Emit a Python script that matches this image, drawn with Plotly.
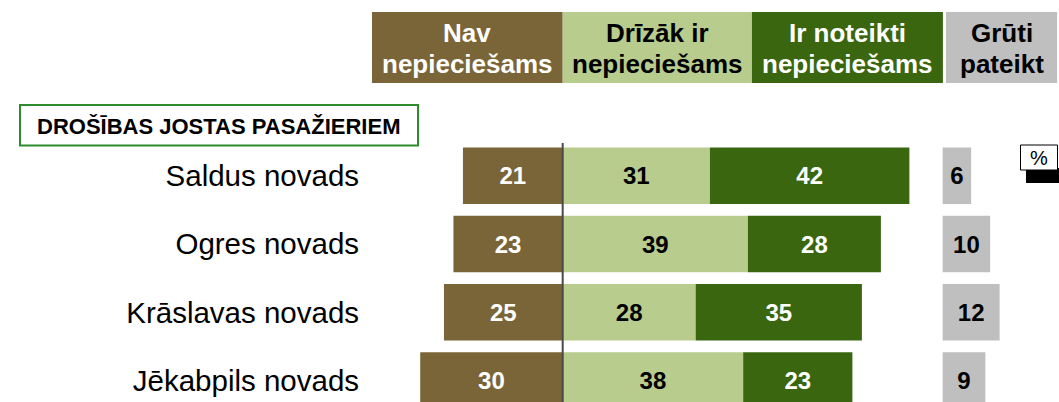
import plotly.graph_objects as go

regions = ["Saldus novads", "Ogres novads", "Krāslavas novads", "Jēkabpils novads"]
nav = [21, 23, 25, 30]
drizak = [31, 39, 28, 38]
noteikti = [42, 28, 35, 23]
gruti = [6, 10, 12, 9]

header_top = ["Nav", "Drīzāk ir", "Ir noteikti", "Grūti"]
header_bottom = ["nepieciešams", "nepieciešams", "nepieciešams", "pateikt"]
section_title = "DROŠĪBAS JOSTAS PASAŽIERIEM"

BROWN = "#7A6538"
LIGHT = "#B8CC8E"
DARK = "#3A6610"
GREY = "#BFBFBF"
FONT = "Liberation Sans, Arial, sans-serif"

W, H = 1059, 402
L, T = 372, 100
GRUTI_BASE = 80


def py(p):
    # pixel row -> paper y
    return (H - p) / (H - T)


def px(p):
    # pixel column -> paper x
    return (p - L) / (W - L)


# y range: row pitch 68.3px, first row centred at pixel row 175.7
pitch = 68.3
y_top = -(175.7 - T) / pitch
y_bot = 3 + (H - 380.6) / pitch

fig = go.Figure()

bar_w = 0.827
common = dict(orientation="h", width=bar_w, textposition="inside",
              insidetextanchor="middle", cliponaxis=False,
              marker_line_width=0, hoverinfo="skip", showlegend=False)

fig.add_trace(go.Bar(y=regions, x=nav, base=[-v for v in nav], text=nav,
                     marker_color=BROWN,
                     textfont=dict(family=FONT, size=24, color="white", weight="bold"),
                     **common))
fig.add_trace(go.Bar(y=regions, x=drizak, base=[0] * len(drizak), text=drizak,
                     marker_color=LIGHT,
                     textfont=dict(family=FONT, size=24, color="black", weight="bold"),
                     **common))
fig.add_trace(go.Bar(y=regions, x=noteikti, base=drizak, text=noteikti,
                     marker_color=DARK,
                     textfont=dict(family=FONT, size=24, color="white", weight="bold"),
                     **common))
fig.add_trace(go.Bar(y=regions, x=gruti, base=[GRUTI_BASE] * len(gruti), text=gruti,
                     marker_color=GREY,
                     textfont=dict(family=FONT, size=24, color="black", weight="bold"),
                     **common))

# header boxes (legend)
box_edges = [(-40.15, 0), (0, 39.85), (39.85, 80.06), (80.7, 104.1)]
box_colors = [BROWN, LIGHT, DARK, GREY]
text_colors = ["white", "black", "white", "black"]
shapes = []
annotations = []
for (x0, x1), bc, tc, t1, t2 in zip(box_edges, box_colors, text_colors, header_top, header_bottom):
    shapes.append(dict(type="rect", xref="x", yref="paper", x0=x0, x1=x1,
                       y0=py(83), y1=py(12), fillcolor=bc, line_width=0, layer="below"))
    for txt, yy in ((t1, 33), (t2, 64)):
        annotations.append(dict(text=txt, xref="x", yref="paper", x=(x0 + x1) / 2, y=py(yy),
                                xanchor="center", yanchor="middle", showarrow=False,
                                font=dict(family=FONT, size=26, color=tc, weight="bold")))

# centre line
shapes.append(dict(type="line", xref="x", yref="paper", x0=0, x1=0, y0=0, y1=py(143),
                   line=dict(color="#4A4A4A", width=2)))

# section title box
shapes.append(dict(type="rect", xref="paper", yref="paper",
                   x0=px(20), x1=px(418), y0=py(145.5), y1=py(105),
                   line=dict(color="#2E8B2E", width=2), fillcolor="white"))
annotations.append(dict(text=section_title, xref="paper", yref="paper",
                        x=px(218), y=py(126), xanchor="center", yanchor="middle",
                        showarrow=False,
                        font=dict(family=FONT, size=22, color="black", weight="bold")))

# percent box with drop shadow
shapes.append(dict(type="rect", xref="paper", yref="paper", x0=px(1026), x1=px(1059),
                   y0=py(183), y1=py(168), fillcolor="black", line_width=0))
shapes.append(dict(type="rect", xref="paper", yref="paper", x0=px(1020.5), x1=px(1057.5),
                   y0=py(170), y1=py(145), fillcolor="white", line=dict(color="black", width=1)))
annotations.append(dict(text="%", xref="paper", yref="paper", x=px(1039), y=py(158),
                        xanchor="center", yanchor="middle", showarrow=False,
                        font=dict(family=FONT, size=20, color="black")))

fig.update_layout(
    width=W, height=H,
    margin=dict(l=L, r=0, t=T, b=0),
    barmode="overlay",
    plot_bgcolor="white", paper_bgcolor="white",
    shapes=shapes, annotations=annotations,
    xaxis=dict(range=[-40.15, 104.5], visible=False, fixedrange=True),
    yaxis=dict(type="category", range=[y_bot, y_top], showgrid=False, zeroline=False,
               showline=False, ticks="outside", ticklen=6, tickcolor="rgba(0,0,0,0)",
               tickfont=dict(family=FONT, size=29.5, color="black"), fixedrange=True),
    uniformtext=dict(minsize=24, mode="show"),
)

# drop the default page margin so the figure sits at the window's top-left corner
fig.write_html("out.html",
               config={"displayModeBar": False},
               post_script="document.body.style.margin='0';document.body.style.overflow='hidden';")
